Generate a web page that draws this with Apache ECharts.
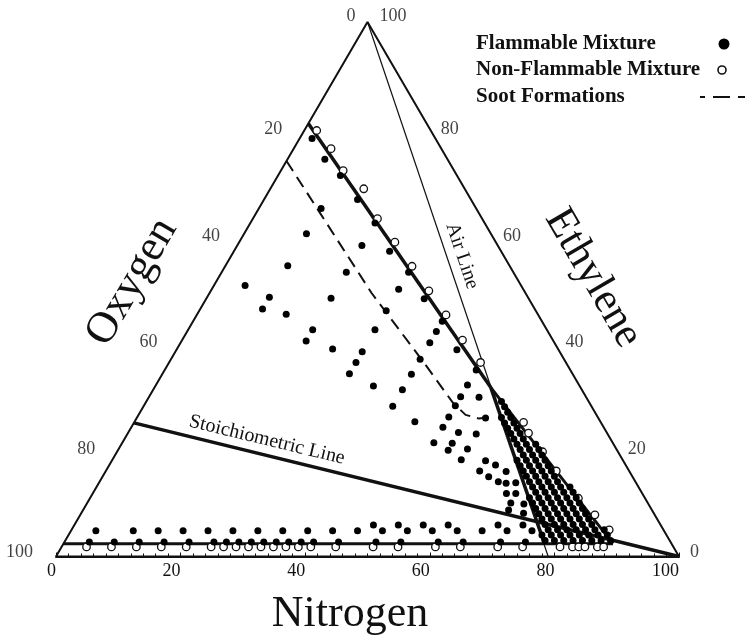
<!DOCTYPE html>
<html><head><meta charset="utf-8">
<script src="https://cdn.jsdelivr.net/npm/echarts@6/dist/echarts.min.js"></script>
<style>html,body{margin:0;padding:0;background:#fff}#c{width:745px;height:641px}</style>
</head><body><div id="c"></div>
<script>
// ---- data: points are [nitrogen %, ethylene %]; oxygen = 100 - N - E ----
const triangle = [[0,0],[0,100],[100,0],[0,0]];
const airLine = [[0,100],[79,0]];
const airLineBold = [[54,31.6],[77.2,2.4]];
const uflLine = [[0,81],[54,31.6]];
const uflLean = [[54,31.6],[88.2,2.4]];
const lflLine = [[0,2.4],[88.2,2.4]];
const stoichLine = [[0,25],[100,0]];
const sootLine = [[0,74],[26,49.3],[41,36.2],[49.4,28.7],[52.5,26.5],[55,25.8],[56.2,26],[56.3,24.6]];

const oxygenTicks = [0,20,40,60,80,100];
const ethyleneTicks = [0,20,40,60,80,100];

const flammableUpper = [
 [2,78.2],[6,74.3],[10,71.3],[15,66.8],[20,62.4],[25,57.1],[30,53.2],[35,48.2],[40,44.0],[45,38.7],[50,34.9],
 [5,50.7],
 [10,65.1],[10,60.4],[10,54.4],[10,48.5],[10,46.3],
 [14.3,45.3],
 [20,58.2],[20,53.2],[20,48.3],[20,42.4],[20,40.3],
 [25,38.8],
 [30,50.0],[30,46.0],[30,42.4],[30,38.3],[30,36.3],[30,34.2],
 [35,31.9],
 [40,42.1],[40,40.0],[40,36.9],[40,34.1],[40,31.2],[40,28.1],
 [45,25.2],
 [50,32.1],[50,29.9],[50,28.2],[50,26.1],[50,24.2],[50,21.3],
 [53,29.8],[53,23.2],[53,21.2],[53,19.9],
 [56,25.9],[56,22.9],[56,20.1],[56,18.1],
 [60,16.0],[60,17.9],[62,14.9],[62,17.1],
 [64.3,15.9],[64,14],[65.4,13.7],[66.9,13.8],[66.4,11.8],[67.9,11.8],[68.3,8.7],[71,8.1],[68,10],[70.2,9.8]
];
const flammableLowRowN = [4,8,12,16,20,24,26,28,30,32,34,36,38,40,44,50,54,60,64,70,74];
const flammableLowRowE = 2.7;
const flammableMidRow = [
 [4,4.8],[10,4.8],[14,4.8],[18,4.8],[22,4.8],[26,4.8],[30,4.8],[34,4.8],[38,4.8],[42,4.8],[46,4.8],
 [48,5.9],[50,4.8],[52,5.9],[54,4.8],[56,5.9],[58,4.8],[60,5.9],[62,4.8],[66,4.8],[68,5.9],[70,4.8],[72,5.9],[74,4.8]
];
// hatched (densely tested) zone: constant oxygen stripes, ethylene values along each stripe
const hatchOxygen = [20,18.5,17,15.5,14,12.5,11,9.5];
const hatchEthylene = [
 [3,4],
 [3,4,5,6,7,8,9,10,11],
 [3,4,5,6,7,8,9,10,11,12,13,14,15,16,17,18],
 [3,4,5,6,7,8,9,10,11,12,13,14,15,16,17,18,19,20,21,22,23,24,25,26],
 [3,4,5,6,7,8,9,10,11,12,13,14,15,16,17,18,19,20,21,22,23,24,25,26,27,28,29],
 [3,4,5,6,7,8,9,10,11,12,13,14,15,16,17,18,19,20,21],
 [3,4,5,6,7,8,9,10,11,12,13],
 [3,4,5]
];
const nonFlammable = [
 [2,79.7],[6,76.3],[10,72.2],[15,68.8],[20,63.2],[25,58.8],[30,54.3],[35,49.7],[40,45.2],[45,40.5],[50,36.3],
 [62.5,25.1],[64.3,23.1],[68.3,19.6],[72.3,16.0],[78.4,10.9],[82.6,7.8],[86.3,5.0]
];
const nonFlammableRowN = [4,8,12,16,20,24,26,28,30,32,34,36,38,40,44,50,54,60,64,70,74,80,82,83,84,86,87];
const nonFlammableRowE = 1.8;

// ---- build ----
const tern = p => [p[0] + p[1] / 2, p[1]];
const SERIF = "'Liberation Serif','Times New Roman','DejaVu Serif',serif";
const INK = '#111';

const flammableAll = flammableUpper
  .concat(flammableLowRowN.map(n => [n, flammableLowRowE]))
  .concat(flammableMidRow);
hatchOxygen.forEach((o, i) => hatchEthylene[i].forEach(e => flammableAll.push([100 - o - e, e])));
const nonFlamAll = nonFlammable.concat(nonFlammableRowN.map(n => [n, nonFlammableRowE]));

function lineSeries(pts, width, extra) {
  return Object.assign({
    type: 'line', data: pts.map(tern), symbol: 'none', silent: true, z: 2,
    lineStyle: { color: INK, width: width }
  }, extra || {});
}
const leftOff = {0: [-12, -6], 100: [-23, -4]};
const rightOff = {100: [12, -6], 0: [11, -4]};

const chart = echarts.init(document.getElementById('c'), null, { renderer: 'canvas' });
chart.setOption({
  animation: false,
  backgroundColor: '#fff',
  grid: { left: 56, top: 22, width: 623, height: 534.5 },
  xAxis: {
    type: 'value', min: 0, max: 100, interval: 20,
    axisLine: { lineStyle: { color: INK, width: 2 } },
    axisTick: { show: true, inside: true, length: 4, lineStyle: { color: INK, width: 1 } },
    minorTick: { show: true, splitNumber: 10, length: 3, lineStyle: { color: INK, width: 1 } },
    splitLine: { show: false },
    axisLabel: { align: 'right', fontSize: 18, fontFamily: SERIF, color: INK, margin: 6 }
  },
  yAxis: { type: 'value', min: 0, max: 100, show: false },
  series: [
    lineSeries(triangle, 2),
    lineSeries(airLine, 1.2),
    lineSeries(airLineBold, 3.5),
    lineSeries(uflLine, 3.5),
    lineSeries(uflLean, 3),
    lineSeries(lflLine, 3),
    lineSeries(stoichLine, 3.5),
    lineSeries(sootLine, 2, { lineStyle: { color: INK, width: 2, type: [12, 7] } }),
    { type: 'scatter', data: nonFlamAll.map(tern), symbol: 'circle', symbolSize: 7.5, z: 4, silent: true,
      itemStyle: { color: '#fff', borderColor: INK, borderWidth: 1.3, opacity: 1 } },
    { type: 'scatter', data: flammableAll.map(tern), symbol: 'circle', symbolSize: 7, z: 5, silent: true,
      itemStyle: { color: '#000', opacity: 1 } },
    { type: 'scatter', symbolSize: 1, silent: true, itemStyle: { color: 'rgba(0,0,0,0)' },
      data: oxygenTicks.map(o => ({ value: tern([0, 100 - o]),
        label: { show: true, formatter: String(o), position: 'inside', align: 'right', verticalAlign: 'middle',
          offset: leftOff[o] || [-23, 0], fontSize: 18, fontFamily: SERIF, color: INK } })) },
    { type: 'scatter', symbolSize: 1, silent: true, itemStyle: { color: 'rgba(0,0,0,0)' },
      data: ethyleneTicks.map(e => ({ value: tern([100 - e, e]),
        label: { show: true, formatter: String(e), position: 'inside', align: 'left', verticalAlign: 'middle',
          offset: rightOff[e] || [11, 0], fontSize: 18, fontFamily: SERIF, color: INK } })) }
  ],
  graphic: [
    { type: 'text', x: 132, y: 282, rotation: 59.7 * Math.PI / 180,
      style: { text: 'Oxygen', font: '44px ' + SERIF, fill: INK, textAlign: 'center', textVerticalAlign: 'middle' } },
    { type: 'text', x: 593, y: 278, rotation: -59.8 * Math.PI / 180,
      style: { text: 'Ethylene', font: '43px ' + SERIF, fill: INK, textAlign: 'center', textVerticalAlign: 'middle' } },
    { type: 'text', x: 350, y: 614,
      style: { text: 'Nitrogen', font: '44px ' + SERIF, fill: INK, textAlign: 'center', textVerticalAlign: 'middle' } },
    { type: 'text', x: 462, y: 256, rotation: -71.4 * Math.PI / 180,
      style: { text: 'Air Line', font: '20px ' + SERIF, fill: INK, textAlign: 'center', textVerticalAlign: 'middle' } },
    { type: 'text', x: 267, y: 440, rotation: -13.6 * Math.PI / 180,
      style: { text: 'Stoichiometric Line', font: '20px ' + SERIF, fill: INK, textAlign: 'center', textVerticalAlign: 'middle' } },
    { type: 'text', x: 476, y: 44, style: { text: 'Flammable Mixture', font: 'bold 21px ' + SERIF, fill: INK, textVerticalAlign: 'middle' } },
    { type: 'text', x: 476, y: 70, style: { text: 'Non-Flammable Mixture', font: 'bold 21px ' + SERIF, fill: INK, textVerticalAlign: 'middle' } },
    { type: 'text', x: 476, y: 97, style: { text: 'Soot Formations', font: 'bold 21px ' + SERIF, fill: INK, textVerticalAlign: 'middle' } },
    { type: 'circle', shape: { cx: 724, cy: 44, r: 5.5 }, style: { fill: '#000' } },
    { type: 'circle', shape: { cx: 722, cy: 70, r: 4 }, style: { fill: '#fff', stroke: INK, lineWidth: 1.6 } },
    { type: 'line', shape: { x1: 700, y1: 97, x2: 745, y2: 97 }, style: { stroke: INK, lineWidth: 2, lineDash: [17, 8], lineDashOffset: 12 } }
  ]
});
</script>
</body></html>
